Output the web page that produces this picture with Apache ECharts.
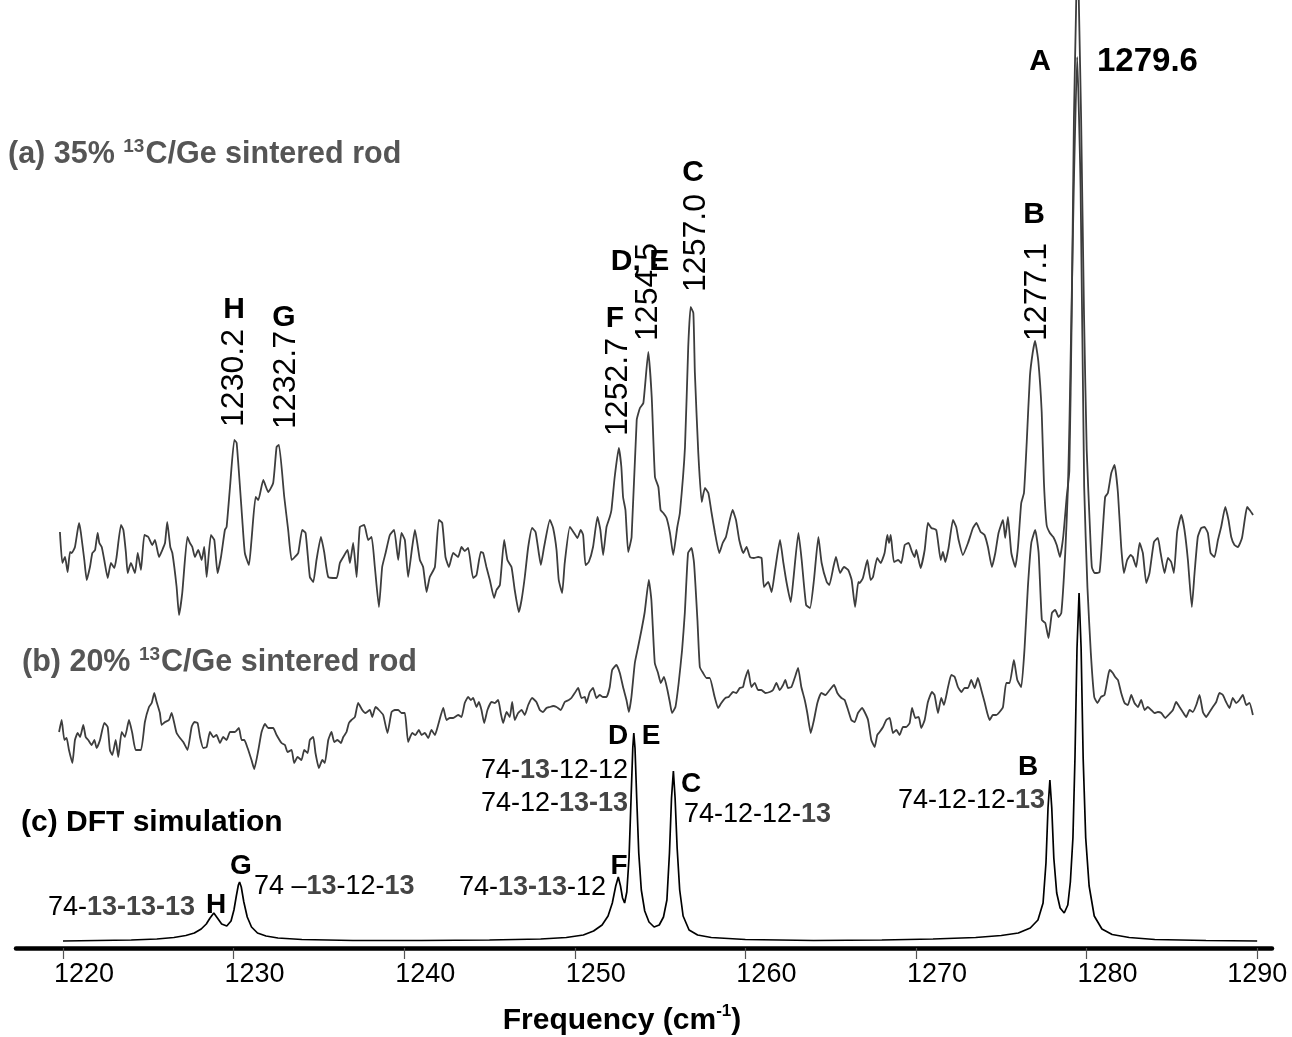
<!DOCTYPE html>
<html><head><meta charset="utf-8">
<script src="https://cdn.jsdelivr.net/npm/echarts@6/dist/echarts.min.js"></script>
<style>html,body{margin:0;padding:0;background:#fff}#c{width:1292px;height:1037px}</style>
</head><body><div id="c"></div>
<script>
// x: frequency (cm^-1); y: intensity (arbitrary units, traces stacked with their offsets)
const tickValues = [1220,1230,1240,1250,1260,1270,1280,1290];

const traceA = [
[1219.82,416],[1219.96,385],[1220.12,391],[1220.27,376],[1220.41,396],[1220.51,395],[1220.70,401],[1220.94,425],[1221.05,415],[1221.25,388],[1221.39,368],[1221.58,381],[1221.72,395],[1221.88,398],[1222.03,415],[1222.13,405],[1222.27,401],[1222.42,388],[1222.62,370],[1222.81,385],[1223.01,380],[1223.14,391],[1223.40,423],[1223.54,418],[1223.69,395],[1223.79,375],[1223.98,385],[1224.22,375],[1224.38,395],[1224.57,378],[1224.77,413],[1225.00,411],[1225.23,403],[1225.39,408],[1225.63,391],[1225.82,398],[1225.98,405],[1226.11,426],[1226.29,401],[1226.41,395],[1226.66,361],[1226.80,333],[1226.99,355],[1227.29,411],[1227.44,405],[1227.58,401],[1227.73,391],[1227.93,398],[1228.13,388],[1228.28,401],[1228.42,371],[1228.67,413],[1228.87,408],[1229.06,375],[1229.26,391],[1229.49,418],[1229.59,421],[1229.79,461],[1230.04,508],[1230.18,505],[1230.51,428],[1230.66,395],[1230.90,383],[1231.05,408],[1231.29,451],[1231.45,448],[1231.74,468],[1232.03,456],[1232.32,465],[1232.52,501],[1232.66,503],[1232.97,451],[1233.20,418],[1233.40,388],[1233.59,391],[1233.79,395],[1234.02,418],[1234.22,415],[1234.47,371],[1234.67,366],[1234.86,388],[1235.12,411],[1235.31,396],[1235.55,371],[1236.04,370],[1236.23,385],[1236.43,391],[1236.68,398],[1236.82,385],[1237.01,405],[1237.21,371],[1237.40,421],[1237.66,423],[1237.89,408],[1238.09,411],[1238.28,381],[1238.52,341],[1238.71,381],[1238.91,395],[1239.16,413],[1239.41,418],[1239.65,388],[1239.84,415],[1240.04,408],[1240.23,371],[1240.47,401],[1240.63,418],[1240.92,388],[1241.11,381],[1241.31,356],[1241.50,371],[1241.80,381],[1242.03,428],[1242.23,425],[1242.42,391],[1242.62,381],[1242.87,395],[1243.16,391],
[1243.36,401],[1243.55,397],[1243.75,400],[1244.04,370],[1244.24,373],[1244.49,396],[1244.63,395],[1244.82,381],[1245.02,368],[1245.27,350],[1245.41,358],[1245.61,363],[1245.86,408],[1246.05,388],[1246.29,381],[1246.48,358],[1246.72,336],[1246.88,348],[1247.07,371],[1247.27,401],[1247.50,420],[1247.70,416],[1247.89,395],[1248.01,383],[1248.20,401],[1248.54,428],[1248.73,420],[1248.93,398],[1249.06,368],[1249.26,355],[1249.41,385],[1249.71,421],[1249.96,415],[1250.16,410],[1250.35,418],[1250.49,413],[1250.63,383],[1250.82,386],[1251.07,401],[1251.33,431],[1251.50,418],[1251.66,393],[1251.86,421],[1252.05,431],[1252.15,438],[1252.34,471],[1252.58,500],[1252.73,481],[1252.83,451],[1252.97,438],[1253.13,396],
[1253.33,411],[1253.63,528],[1253.82,540],[1254.02,545],[1254.31,596],[1254.51,551],[1254.70,471],[1254.90,461],[1255.03,438],[1255.19,435],[1255.38,430],[1255.58,415],[1255.77,393],[1256.01,421],[1256.16,435],[1256.46,501],[1256.65,601],[1256.79,641],[1256.95,635],[1257.04,575],[1257.24,495],[1257.44,446],[1257.63,460],[1257.83,455],[1258.02,435],[1258.22,415],[1258.47,395],[1258.67,405],[1258.86,411],[1259.25,438],[1259.45,428],[1259.64,408],[1259.88,395],[1260.07,401],[1260.27,391],[1260.50,390],[1260.75,391],[1260.95,390],[1261.09,361],[1261.34,366],[1261.54,356],[1261.74,378],[1262.03,408],[1262.23,385],[1262.42,365],[1262.66,346],[1262.81,368],[1263.11,415],[1263.30,388],[1263.56,343],[1263.79,340],[1264.02,368],[1264.28,411],[1264.47,385],[1264.77,366],[1264.92,363],[1265.16,381],[1265.31,391],[1265.55,375],[1265.78,381],[1266.03,378],[1266.23,368],[1266.43,341],[1266.62,366],
[1266.70,365],[1266.89,370],[1267.15,388],[1267.34,368],[1267.48,371],[1267.73,390],[1267.93,385],[1268.16,395],[1268.32,413],[1268.42,405],[1268.52,413],[1268.71,386],[1268.95,388],[1269.14,385],[1269.34,403],[1269.57,405],[1269.77,396],[1269.92,391],[1270.02,398],[1270.27,380],[1270.51,398],[1270.70,425],[1270.90,420],[1271.19,418],[1271.45,388],[1271.58,396],[1271.72,386],[1271.91,400],[1272.17,428],[1272.36,421],[1272.50,408],[1272.75,393],[1273.05,405],[1273.34,420],[1273.54,425],[1273.79,416],[1274.02,413],[1274.22,401],[1274.45,381],[1274.65,395],[1274.84,415],[1275.10,428],[1275.23,410],[1275.39,431],[1275.59,395],[1275.82,381],[1275.98,401],[1276.17,445],[1276.33,455],
[1276.49,505],[1276.68,572],[1276.84,595],[1276.98,607],[1277.17,587],[1277.37,536],[1277.50,466],[1277.66,423],[1277.85,415],[1278.05,411],[1278.25,403],[1278.44,391],[1278.63,411],[1278.83,450],[1278.99,477],[1279.13,634],[1279.26,830],[1279.38,935],[1279.47,1010],[1279.56,935],[1279.68,830],[1279.85,634],[1280.01,497],[1280.20,419],
[1280.31,381],[1280.47,375],[1280.76,376],[1280.96,421],[1281.09,451],[1281.25,455],[1281.45,475],[1281.64,483],[1281.84,455],[1282.03,401],[1282.19,375],[1282.38,388],[1282.58,393],[1282.71,391],[1282.91,381],[1283.11,405],[1283.30,395],[1283.50,365],[1283.69,375],[1283.95,406],[1284.18,410],[1284.34,395],[1284.57,375],[1284.77,390],[1284.96,386],[1285.12,375],[1285.31,416],[1285.55,433],[1285.74,418],[1285.94,388],[1286.17,341],[1286.33,375],[1286.52,411],[1286.72,420],[1286.91,421],[1287.11,415],[1287.27,395],[1287.50,391],[1287.70,408],[1287.89,421],[1288.13,441],[1288.32,428],[1288.48,411],[1288.67,403],[1288.87,401],[1289.11,410],[1289.27,428],[1289.41,441],[1289.56,438],[1289.76,433]
];

const traceB = [
[1219.77,216],[1219.92,228],[1220.08,208],[1220.21,210],[1220.35,198],[1220.55,185],[1220.70,208],[1220.86,215],[1221.00,211],[1221.19,223],[1221.33,211],[1221.48,208],[1221.68,203],[1221.84,208],[1221.97,200],[1222.17,208],[1222.42,225],[1222.62,221],[1222.75,198],[1222.89,193],[1223.09,208],[1223.24,191],[1223.44,216],[1223.63,211],[1223.87,228],[1224.06,215],[1224.26,198],[1224.57,198],[1224.80,226],[1225.04,241],[1225.20,245],[1225.35,255],[1225.49,246],[1225.68,235],[1225.78,223],[1225.98,226],[1226.21,228],[1226.37,235],[1226.52,225],[1226.66,215],[1226.86,210],[1227.05,206],[1227.30,198],[1227.54,221],[1227.70,226],[1227.89,225],[1228.03,211],[1228.22,200],[1228.42,201],[1228.61,216],[1228.81,211],[1229.00,213],[1229.20,205],[1229.39,211],[1229.59,208],[1229.79,216],[1230.08,216],[1230.31,220],[1230.47,208],[1230.63,208],[1230.82,200],[1231.05,188],[1231.21,179],[1231.45,198],[1231.64,216],[1231.84,224],[1232.03,220],[1232.19,220],[1232.32,220],[1232.52,213],[1232.81,205],[1233.01,203],[1233.16,196],[1233.40,198],[1233.55,185],[1233.75,191],[1233.98,188],[1234.14,198],[1234.34,195],[1234.47,208],[1234.67,211],[1234.80,195],[1235.00,180],[1235.20,188],[1235.35,185],[1235.55,208],[1235.74,216],[1235.90,206],[1236.09,208],[1236.29,205],[1236.43,211],[1236.62,216],[1236.76,225],[1236.91,228],[1237.11,231],[1237.30,245],[1237.54,238],[1237.73,235],[1237.99,238],[1238.13,231],[1238.32,241],[1238.52,238],[1238.77,233],[1239.02,215],[1239.26,236],[1239.45,238],[1239.65,238],[1239.84,235],[1240.04,235],[1240.23,206],[1240.47,215],[1240.66,213],[1240.86,218],[1241.02,213],[1241.21,215],[1241.41,210],[1241.60,218],[1241.80,213],[1241.99,223],[1242.29,240],[1242.48,228],[1242.68,230],[1242.87,230],[1243.16,233],
[1243.36,231],[1243.55,245],[1243.75,251],[1243.91,248],[1244.04,250],[1244.24,241],[1244.38,246],[1244.53,238],[1244.69,225],[1244.88,238],[1245.12,246],[1245.31,245],[1245.51,248],[1245.66,235],[1245.80,225],[1246.00,236],[1246.19,231],[1246.33,246],[1246.48,228],[1246.68,235],[1246.88,238],[1247.07,233],[1247.27,243],[1247.50,250],[1247.75,246],[1247.95,238],[1248.14,236],[1248.34,240],[1248.54,241],[1248.73,242],[1248.93,241],[1249.18,238],[1249.41,246],[1249.65,248],[1249.80,250],[1250.00,255],[1250.20,260],[1250.39,250],[1250.59,251],[1250.68,245],[1250.88,256],[1251.07,260],[1251.27,250],[1251.46,253],[1251.66,251],[1251.86,251],[1252.05,261],[1252.19,278],[1252.44,283],[1252.64,275],[1252.83,261],[1253.03,248],[1253.17,236],[1253.32,251],[1253.52,285],[1253.71,301],[1253.91,318],[1254.10,336],[1254.34,368],[1254.49,348],[1254.69,285],[1254.88,275],[1255.04,265],[1255.23,271],[1255.43,258],[1255.57,246],[1255.70,235],[1255.90,241],[1256.09,265],[1256.29,298],[1256.45,335],[1256.64,395],[1256.84,400],[1256.99,385],[1257.19,328],[1257.33,281],[1257.52,275],[1257.72,270],[1257.91,270],[1258.20,251],[1258.40,240],[1258.59,245],[1258.83,250],[1259.02,251],[1259.28,256],[1259.47,255],[1259.67,260],[1259.86,261],[1259.96,268],[1260.16,278],[1260.35,261],[1260.55,265],[1260.74,258],[1260.94,258],[1261.17,255],[1261.43,256],[1261.62,258],[1261.82,265],[1262.01,258],[1262.21,263],[1262.34,268],[1262.50,260],[1262.70,261],[1262.89,270],[1263.09,280],[1263.28,261],[1263.48,248],[1263.63,235],[1263.83,215],[1264.02,228],[1264.22,245],[1264.45,255],[1264.69,253],[1264.94,258],[1265.20,263],[1265.39,255],[1265.63,250],[1265.82,248],[1266.02,238],[1266.21,228],[1266.41,226],[1266.60,235],
[1266.84,240],[1266.99,236],[1267.19,228],[1267.38,208],[1267.58,201],[1267.73,213],[1267.87,216],[1268.07,221],[1268.26,228],[1268.46,230],[1268.65,215],[1268.85,218],[1269.04,213],[1269.24,221],[1269.43,221],[1269.63,225],[1269.77,240],[1269.96,230],[1270.16,231],[1270.31,220],[1270.51,228],[1270.70,246],[1270.94,256],[1271.09,253],[1271.29,235],[1271.48,250],[1271.64,243],[1271.88,261],[1272.07,273],[1272.27,271],[1272.46,261],[1272.66,256],[1272.85,260],[1273.05,260],[1273.24,268],[1273.44,260],[1273.63,270],[1273.83,258],[1274.02,246],[1274.18,235],[1274.32,228],[1274.51,233],[1274.71,233],[1274.90,236],[1275.10,241],[1275.29,265],[1275.49,265],[1275.74,288],[1275.94,268],[1276.17,261],[1276.37,301],[1276.56,361],[1276.76,405],[1276.99,418],[1277.19,395],[1277.38,328],[1277.58,325],[1277.77,310],[1277.97,335],[1278.16,338],[1278.36,331],[1278.52,335],[1278.75,395],[1278.91,461],[1279.00,528],[1279.25,760],[1279.45,891],[1279.65,760],[1279.86,461],[1280.05,361],[1280.25,295],[1280.45,251],[1280.64,245],[1280.84,251],[1281.05,253],[1281.25,271],[1281.35,278],[1281.54,275],[1281.68,271],[1281.84,268],[1282.03,255],[1282.23,245],[1282.42,243],[1282.62,253],[1282.81,245],[1283.01,241],[1283.20,248],[1283.40,238],[1283.59,241],[1283.79,238],[1283.98,235],[1284.18,236],[1284.38,235],[1284.61,230],[1284.80,233],[1285.06,238],[1285.25,246],[1285.45,241],[1285.64,236],[1285.84,231],[1286.04,238],[1286.23,236],[1286.43,243],[1286.62,253],[1286.82,236],[1287.01,231],[1287.21,236],[1287.40,241],[1287.60,246],[1287.79,255],[1287.99,253],[1288.18,246],[1288.38,240],[1288.57,250],[1288.77,245],[1288.96,248],[1289.16,253],[1289.36,243],[1289.55,245],[1289.75,233]
];

const traceDFT = [
[1220.0,7],[1222.0,7.5],[1224.0,8],[1225.5,9],[1226.5,10.5],[1227.2,12.5],[1227.7,15],[1228.1,19],[1228.4,24],[1228.62,30],[1228.84,35],[1229.05,30],[1229.3,24],[1229.6,22],[1229.85,27],[1230.02,38],[1230.16,52],[1230.28,63],[1230.35,66],[1230.45,61],[1230.6,46],[1230.8,31],[1231.05,21],[1231.4,15],[1231.9,12],[1232.6,10],[1234.0,8.5],[1237.0,7.5],[1241.0,7.5],[1245.0,8],[1248.0,9],[1249.5,10.5],[1250.5,13],[1251.1,17],[1251.6,23],[1251.95,32],[1252.2,45],[1252.4,62],[1252.55,71],[1252.68,62],[1252.8,50],[1252.92,45],[1253.05,56],[1253.18,90],[1253.3,150],[1253.4,200],[1253.46,215],[1253.53,200],[1253.63,150],[1253.75,95],[1253.9,58],[1254.1,37],[1254.35,26],[1254.65,21],[1254.95,23],[1255.2,31],[1255.4,48],[1255.55,95],[1255.67,150],[1255.78,177],[1255.88,150],[1256.0,100],[1256.15,58],[1256.35,32],[1256.7,18],[1257.2,13],[1258.0,10.5],[1260.0,8.5],[1264.0,7.5],[1268.0,8],[1271.0,9],[1273.5,10.5],[1275.0,12.5],[1276.0,15],[1276.7,20],[1277.15,28],[1277.45,45],[1277.62,85],[1277.74,140],[1277.85,168],[1277.96,140],[1278.08,90],[1278.25,55],[1278.45,40],[1278.69,35],[1278.9,43],[1279.05,66],[1279.2,110],[1279.32,190],[1279.44,300],[1279.56,355],[1279.68,300],[1279.8,190],[1279.95,110],[1280.15,62],[1280.45,32],[1280.9,19],[1281.5,13.5],[1282.5,10.5],[1284.0,8.5],[1287.0,7.5],[1290.0,7]
];

const FONT = '"Liberation Sans", Arial, sans-serif';
const NARROW = '"Liberation Sans Narrow", "Arial Narrow", "Liberation Sans", Arial, sans-serif';

function txt(x, y, text, o) {
  o = o || {};
  return {
    type: 'text', x: x, y: y, rotation: o.rot || 0, z: 10,
    style: {
      text: text,
      fontFamily: o.family || FONT,
      fontSize: o.size || 28,
      fontWeight: o.weight || 'normal',
      fill: o.color || '#000',
      textAlign: o.align || 'center',
      textVerticalAlign: 'middle',
      rich: o.rich
    }
  };
}
const compRich = {
  r: {fontFamily: FONT, fontSize: 27, fill: '#000'},
  b: {fontFamily: FONT, fontSize: 27, fontWeight: 'bold', fill: '#444'}
};
const titleRich = (c) => ({
  t: {fontFamily: FONT, fontSize: 30.5, fontWeight: 'bold', fill: c, lineHeight: 36},
  s: {fontFamily: FONT, fontSize: 19, fontWeight: 'bold', fill: c, lineHeight: 36, verticalAlign: 'top', padding: [0, 1, 0, 0]}
});
function comp(x, y, s, align) {
  // s like "74-|13|-12-12": alternate regular / bold segments
  const parts = s.split('|');
  let t = '';
  parts.forEach((p, i) => { if (p) t += (i % 2 ? '{b|' : '{r|') + p + '}'; });
  return txt(x, y, t, {align: align || 'left', rich: compRich});
}

const graphics = [
  txt(8, 155, '{t|(a) 35% }{s|13}{t|C/Ge sintered rod}', {align: 'left', rich: titleRich('#555')}),
  txt(22, 663, '{t|(b) 20% }{s|13}{t|C/Ge sintered rod}', {align: 'left', rich: titleRich('#555')}),
  txt(21, 823, '(c) DFT simulation', {align: 'left', weight: 'bold', size: 30}),
  // experimental peak labels
  txt(1040, 62, 'A', {weight: 'bold', size: 30}),
  txt(1097, 62, '1279.6', {weight: 'bold', size: 33, align: 'left'}),
  txt(1034, 215, 'B', {weight: 'bold', size: 30}),
  txt(1037, 292, '1277.1', {size: 32, rot: Math.PI / 2}),
  txt(693, 173, 'C', {weight: 'bold', size: 30}),
  txt(696, 243, '1257.0', {size: 32, rot: Math.PI / 2}),
  txt(640, 262, 'D, E', {weight: 'bold', size: 30}),
  txt(648, 292, '1254.5', {size: 32, rot: Math.PI / 2}),
  txt(615, 319, 'F', {weight: 'bold', size: 30}),
  txt(618, 387, '1252.7', {size: 32, rot: Math.PI / 2}),
  txt(284, 318, 'G', {weight: 'bold', size: 30}),
  txt(286, 380, '1232.7', {size: 32, rot: Math.PI / 2}),
  txt(234, 310, 'H', {weight: 'bold', size: 30}),
  txt(234, 378, '1230.2', {size: 32, rot: Math.PI / 2}),
  // DFT labels
  txt(618, 736, 'D', {weight: 'bold', size: 28}),
  txt(651, 736, 'E', {weight: 'bold', size: 28}),
  comp(628, 771, '74-|13|-12-12', 'right'),
  comp(628, 804, '74-12-|13-13|', 'right'),
  txt(691, 784, 'C', {weight: 'bold', size: 28}),
  comp(684, 815, '74-12-12-|13|', 'left'),
  txt(1028, 767, 'B', {weight: 'bold', size: 28}),
  comp(1045, 801, '74-12-12-|13|', 'right'),
  txt(619, 866, 'F', {weight: 'bold', size: 28}),
  comp(606, 888, '74-|13-13|-12', 'right'),
  txt(241, 866, 'G', {weight: 'bold', size: 28}),
  comp(254, 887, '74 –|13|-12-|13|', 'left'),
  txt(216, 905, 'H', {weight: 'bold', size: 28}),
  comp(48, 908, '74-|13-13-13|', 'left')
];

const chart = echarts.init(document.getElementById('c'), null, {renderer: 'canvas'});
chart.setOption({
  animation: false,
  backgroundColor: '#fff',
  grid: {left: 16, right: 20, top: 0, bottom: 89, containLabel: false, outerBoundsMode: 'none'},
  xAxis: {
    type: 'value', min: 1217.245, max: 1290.87,
    splitLine: {show: false},
    axisLine: {show: true, lineStyle: {color: '#000', width: 4.5}},
    axisTick: {show: true, customValues: tickValues, length: 11, lineStyle: {color: '#555', width: 1.2}},
    axisLabel: {
      customValues: tickValues, margin: 13,
      formatter: v => (v === 1290 ? '{e|' + v + '}' : '{n|' + v + '}'),
      rich: {
        n: {fontFamily: NARROW, fontSize: 27, color: '#000', padding: [0, 0, 0, 42]},
        e: {fontFamily: NARROW, fontSize: 27, color: '#000'}
      }
    },
    name: '{t|Frequency (cm}{s|-1}{t|)}',
    nameLocation: 'middle', nameGap: 55,
    nameTextStyle: {
      padding: [0, 44, 0, 0],
      rich: {
        t: {fontFamily: NARROW, fontSize: 30, fontWeight: 'bold', color: '#000', lineHeight: 36},
        s: {fontFamily: NARROW, fontSize: 17, fontWeight: 'bold', color: '#000', lineHeight: 36, verticalAlign: 'top'}
      }
    }
  },
  yAxis: {type: 'value', min: 0, max: 948, show: false, splitLine: {show: false}},
  series: [
    {name: '(a) 35% 13C/Ge', type: 'line', data: traceA, showSymbol: false, clip: true, smooth: 0.15,
     lineStyle: {color: '#3d3d3d', width: 1.8}},
    {name: '(b) 20% 13C/Ge', type: 'line', data: traceB, showSymbol: false, clip: true, smooth: 0.15,
     lineStyle: {color: '#3d3d3d', width: 1.8}},
    {name: '(c) DFT', type: 'line', data: traceDFT, showSymbol: false, clip: true,
     lineStyle: {color: '#000', width: 1.7}}
  ],
  graphic: graphics
});
</script></body></html>
